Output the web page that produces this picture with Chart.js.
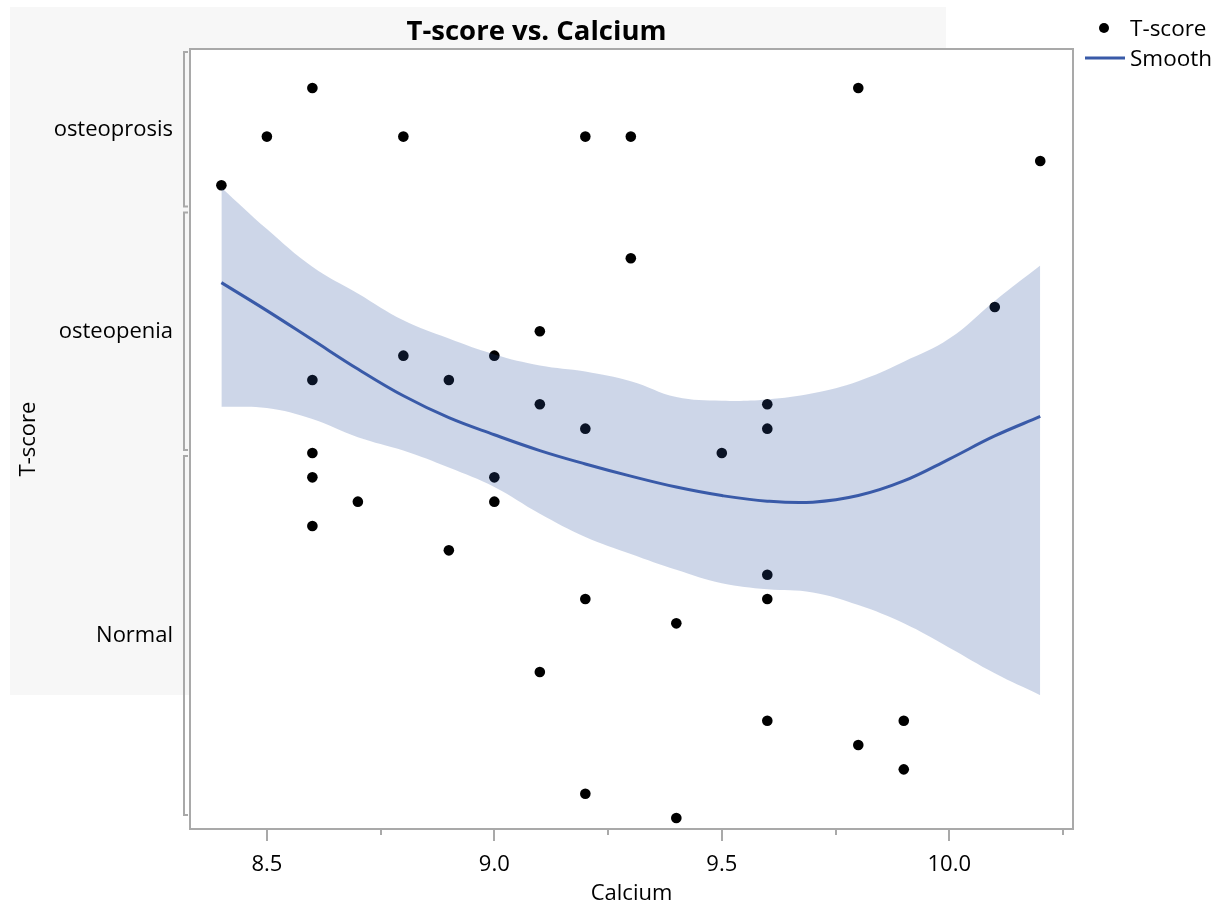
<!DOCTYPE html>
<html>
<head>
<meta charset="utf-8">
<script src="https://cdn.jsdelivr.net/npm/chart.js@4.4.1/dist/chart.umd.min.js"></script>
<style>
  html, body { margin: 0; padding: 0; background: #fff; }
  canvas { display: block; }
</style>
</head>
<body>
<canvas id="myChart" width="1230" height="907"></canvas>
<script>
// points: calcium vs T-score (jittered position inside its category)
const calcium = [8.6, 9.8, 8.5, 8.8, 9.2, 9.3, 10.2, 8.4, 9.3, 10.1, 9.1, 8.8, 9.0, 8.6, 8.9, 9.1, 9.6, 9.2, 9.6,
        8.6, 9.5, 8.6, 9.0, 8.7, 9.0, 8.6, 8.9, 9.6, 9.2, 9.6, 9.4, 9.1, 9.6, 9.9, 9.8, 9.9, 9.2, 9.4];
const tscorePos = [30, 30, 28, 28, 28, 28, 27, 26, 23, 21, 20, 19, 19, 18, 18, 17, 17, 16, 16,
        15, 15, 14, 14, 13, 13, 12, 11, 10, 9, 9, 8, 6, 4, 4, 3, 2, 1, 0];

// smoother + confidence band
const smoothX = [8.4, 8.5, 8.6, 8.7, 8.8, 8.9, 9.0, 9.1, 9.2, 9.3, 9.4, 9.5, 9.6, 9.7, 9.8, 9.9, 10.0, 10.1, 10.2];
const smoothY = [22.0, 20.85, 19.65, 18.45, 17.35, 16.45, 15.75, 15.1, 14.55, 14.05, 13.6, 13.25, 13.02, 12.98, 13.25, 13.85, 14.75, 15.7, 16.5];
const bandUpper = [25.9, 24.2, 22.65, 21.55, 20.45, 19.7, 19.05, 18.6, 18.35, 17.95, 17.3, 17.15, 17.2, 17.45, 17.95, 18.75, 19.7, 21.25, 22.7];
const bandLower = [16.9, 16.85, 16.4, 15.65, 15.1, 14.4, 13.6, 12.5, 11.55, 10.85, 10.2, 9.65, 9.4, 9.27, 8.75, 8.0, 7.0, 5.95, 5.05];

// y categories and their bounds (bottom to top)
const yCategories = ['Normal', 'osteopenia', 'osteoprosis'];
const yBounds = [0, 15, 25, 31.6];
const yCenters = yCategories.map((c, i) => (yBounds[i] + yBounds[i + 1]) / 2);

// x ticks
const xMajorTicks = [8.5, 9.0, 9.5, 10.0];
const xTickLabels = ['8.5', '9.0', '9.5', '10.0'];
const xMinorTicks = [8.75, 9.25, 9.75, 10.25];

const FONT = "'Open Sans', 'Noto Sans', sans-serif";
const AXIS_GRAY = '#a9a9a9';
const BLUE = 'rgb(57, 90, 168)';

const toXY = (xs, ys) => xs.map((x, i) => ({ x: x, y: ys[i] }));

// background, frame, brackets, title, legend
const decor = {
        id: 'decor',
        beforeDraw(chart) {
                const ctx = chart.ctx;
                const a = chart.chartArea;
                ctx.save();
                ctx.fillStyle = '#fff';
                ctx.fillRect(0, 0, chart.width, chart.height);
                ctx.fillStyle = '#f7f7f7';
                ctx.fillRect(10, 7, 936, 688);
                ctx.fillStyle = '#fff';
                ctx.fillRect(a.left, a.top, a.right - a.left, a.bottom - a.top);
                ctx.restore();
        },
        afterDraw(chart) {
                const ctx = chart.ctx;
                const a = chart.chartArea;
                const xs = chart.scales.x;
                const ys = chart.scales.y;
                ctx.save();
                ctx.strokeStyle = AXIS_GRAY;
                ctx.lineWidth = 2;
                ctx.strokeRect(a.left, a.top, a.right - a.left, a.bottom - a.top);

                // x tick marks
                xMajorTicks.forEach(v => {
                        const px = Math.round(xs.getPixelForValue(v));
                        ctx.beginPath();
                        ctx.moveTo(px, a.bottom);
                        ctx.lineTo(px, a.bottom + 12);
                        ctx.stroke();
                });
                xMinorTicks.forEach(v => {
                        const px = Math.round(xs.getPixelForValue(v));
                        ctx.beginPath();
                        ctx.moveTo(px, a.bottom);
                        ctx.lineTo(px, a.bottom + 6);
                        ctx.stroke();
                });

                // category brackets
                const bx = a.left - 6;
                for (let i = 0; i < yCategories.length; i++) {
                        const y0 = ys.getPixelForValue(yBounds[i]) - 3;
                        const y1 = ys.getPixelForValue(yBounds[i + 1]) + 3;
                        ctx.beginPath();
                        ctx.moveTo(bx + 4, y0);
                        ctx.lineTo(bx, y0);
                        ctx.lineTo(bx, y1);
                        ctx.lineTo(bx + 4, y1);
                        ctx.stroke();
                }

                // title
                ctx.fillStyle = '#000';
                ctx.font = 'bold 27.5px ' + FONT;
                ctx.textAlign = 'center';
                ctx.textBaseline = 'alphabetic';
                ctx.fillText('T-score vs. Calcium', a.right / 2, 40);

                // legend
                ctx.font = '22.5px ' + FONT;
                ctx.textAlign = 'left';
                ctx.beginPath();
                ctx.arc(1104, 28, 5, 0, Math.PI * 2);
                ctx.fill();
                ctx.fillText('T-score', 1130, 36);
                ctx.strokeStyle = BLUE;
                ctx.lineWidth = 3;
                ctx.beginPath();
                ctx.moveTo(1085, 58);
                ctx.lineTo(1125, 58);
                ctx.stroke();
                ctx.fillText('Smooth', 1130, 66);
                ctx.restore();
        }
};

const myChart = new Chart(document.getElementById('myChart'), {
        type: 'scatter',
        data: {
                datasets: [
                        {
                                label: 'T-score',
                                data: toXY(calcium, tscorePos),
                                backgroundColor: '#000',
                                borderColor: '#000',
                                pointRadius: 5.3,
                                borderWidth: 0,
                                order: 3
                        },
                        {
                                label: 'upper',
                                data: toXY(smoothX, bandUpper),
                                showLine: true,
                                borderWidth: 0,
                                pointRadius: 0,
                                tension: 0.4,
                                fill: '+1',
                                backgroundColor: 'rgba(43, 81, 157, 0.235)',
                                order: 2
                        },
                        {
                                label: 'lower',
                                data: toXY(smoothX, bandLower),
                                showLine: true,
                                borderWidth: 0,
                                pointRadius: 0,
                                tension: 0.4,
                                fill: false,
                                order: 2
                        },
                        {
                                label: 'Smooth',
                                data: toXY(smoothX, smoothY),
                                showLine: true,
                                borderColor: BLUE,
                                borderWidth: 3,
                                pointRadius: 0,
                                tension: 0.4,
                                fill: false,
                                order: 1
                        }
                ]
        },
        options: {
                responsive: false,
                animation: false,
                layout: { padding: { top: 49, right: 157, bottom: 0, left: 0 } },
                plugins: {
                        legend: { display: false },
                        tooltip: { enabled: false }
                },
                scales: {
                        x: {
                                type: 'linear',
                                min: 8.331,
                                max: 10.272,
                                grid: { display: false, drawTicks: false },
                                border: { display: false },
                                afterBuildTicks: scale => {
                                        scale.ticks = xMajorTicks.map(v => ({ value: v }));
                                },
                                afterFit: scale => { scale.height = 78; },
                                ticks: {
                                        autoSkip: false,
                                        maxRotation: 0,
                                        padding: 23,
                                        color: '#000',
                                        font: { family: FONT, size: 22 },
                                        callback: (value, index) => xTickLabels[index]
                                },
                                title: {
                                        display: true,
                                        text: 'Calcium',
                                        color: '#000',
                                        font: { family: FONT, size: 22 },
                                        padding: { top: 0, bottom: 0 }
                                }
                        },
                        y: {
                                type: 'linear',
                                min: -0.45,
                                max: 31.6,
                                grid: { display: false, drawTicks: false },
                                border: { display: false },
                                afterBuildTicks: scale => {
                                        scale.ticks = yCenters.map(v => ({ value: v }));
                                },
                                afterFit: scale => { scale.width = 190; },
                                ticks: {
                                        autoSkip: false,
                                        padding: 17,
                                        color: '#000',
                                        font: { family: FONT, size: 22 },
                                        callback: (value, index) => yCategories[index]
                                },
                                title: {
                                        display: true,
                                        text: 'T-score',
                                        color: '#000',
                                        font: { family: FONT, size: 22 },
                                        padding: { top: 16, bottom: 0 }
                                }
                        }
                }
        },
        plugins: [decor]
});
</script>
</body>
</html>
